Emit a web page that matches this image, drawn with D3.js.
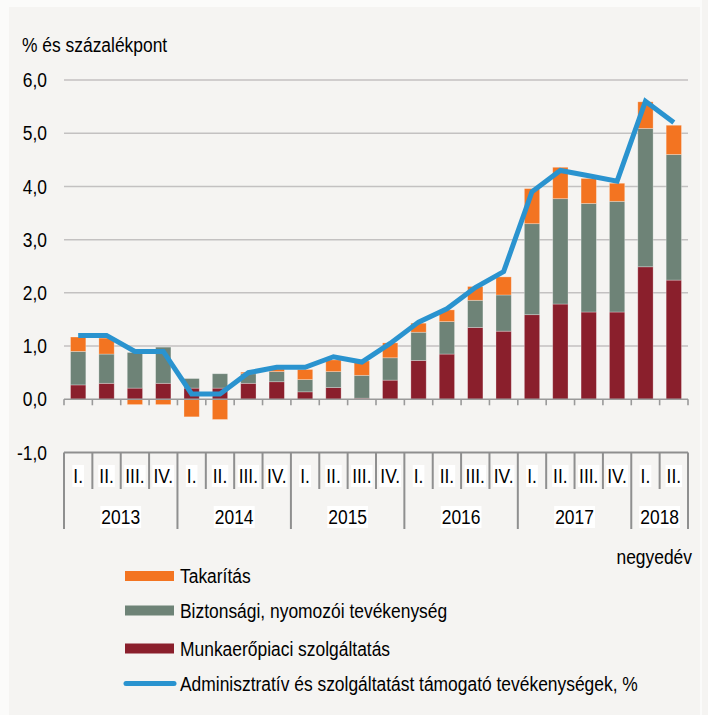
<!DOCTYPE html>
<html><head><meta charset="utf-8">
<script src="https://cdn.jsdelivr.net/npm/d3@7/dist/d3.min.js"></script>
<style>body{margin:0;background:#fbfbfa}svg{display:block}</style>
</head><body>
<svg id="c" width="708" height="715"></svg>
<script>
// ---- data ----
const quarters = ["I.","II.","III.","IV.","I.","II.","III.","IV.","I.","II.","III.","IV.","I.","II.","III.","IV.","I.","II.","III.","IV.","I.","II."];
const years = ["2013","2014","2015","2016","2017","2018"];
const quartersPerYear = [4,4,4,4,4,2];
const munkaeropiaci = [0.27,0.30,0.21,0.30,0.21,0.21,0.30,0.33,0.14,0.22,0.02,0.36,0.73,0.85,1.35,1.28,1.59,1.79,1.64,1.64,2.49,2.24];
const biztonsagi   = [0.63,0.55,0.67,0.68,0.18,0.27,0.18,0.19,0.23,0.30,0.43,0.42,0.53,0.61,0.51,0.68,1.71,1.98,2.04,2.08,2.60,2.36];
const takaritas    = [0.27,0.30,-0.10,-0.10,-0.33,-0.38,0.03,0.05,0.19,0.22,0.27,0.28,0.17,0.22,0.26,0.34,0.66,0.59,0.47,0.34,0.50,0.55];
const adminisztrativ = [1.2,1.2,0.9,0.9,0.1,0.1,0.5,0.6,0.6,0.8,0.7,1.05,1.45,1.7,2.1,2.4,3.9,4.3,4.2,4.1,5.6,5.2];
const yTicks = [-1,0,1,2,3,4,5,6];
const seriesNames = ["Takarítás","Biztonsági, nyomozói tevékenység","Munkaerőpiaci szolgáltatás","Adminisztratív és szolgáltatást támogató tevékenységek, %"];
const yTitle = "% és százalékpont";
const xTitle = "negyedév";

(function(){
// ---- styles ----
const COL = {tak:"#f37421", biz:"#6e8377", mun:"#8a1f2c", line:"#2a93cf"};
const FONT = "'Liberation Sans', Arial, sans-serif";
const FS = 21, SX = 0.83;

const svg = d3.select("#c");
svg.append("rect").attr("x",9).attr("y",7).attr("width",691).attr("height",708).attr("fill","#f5f4f2");
svg.append("rect").attr("x",702).attr("y",0).attr("width",6).attr("height",715).attr("fill","#f5f4f2");

const L = 64, R = 688;
const x = d3.scaleBand().domain(d3.range(quarters.length)).range([L, R]).paddingInner(0.46).paddingOuter(0.23);
const step = x.step();
const y = d3.scaleLinear().domain([-1, 6]).range([452.5, 80]);

function txt(g, s, px, py, anchor) {
  return g.append("text").attr("transform", `translate(${px},${py}) scale(${SX},1)`)
    .attr("font-family", FONT).attr("font-size", FS).attr("fill", "#000")
    .attr("text-anchor", anchor || "start").attr("dominant-baseline", "central").text(s);
}

// gridlines
svg.append("g").selectAll("line").data(yTicks.filter(v => v > 0)).join("line")
  .attr("x1", L).attr("x2", R).attr("y1", d => y(d)).attr("y2", d => y(d))
  .attr("stroke", "#c3c1c1").attr("stroke-width", 1.5);

// y labels
const yl = svg.append("g");
yTicks.forEach(v => txt(yl, v.toFixed(1).replace(".", ","), 47, y(v), "end"));
txt(svg, yTitle, 22, 45, "start");

// stacked bars
const rows = quarters.map((q, i) => ({i, mun: munkaeropiaci[i], biz: biztonsagi[i], tak: takaritas[i]}));
const stack = d3.stack().keys(["mun", "biz", "tak"]).offset(d3.stackOffsetDiverging);
const layers = stack(rows);
svg.append("g").selectAll("g").data(layers).join("g").attr("fill", d => COL[d.key])
  .selectAll("rect").data(d => d).join("rect")
  .attr("x", d => x(d.data.i)).attr("width", x.bandwidth())
  .attr("y", d => y(Math.max(d[0], d[1]))).attr("height", d => Math.abs(y(d[0]) - y(d[1])))
  .attr("stroke", "rgba(255,255,255,0.35)").attr("stroke-width", 0.8);

// zero axis with ticks
const ax = svg.append("g").attr("stroke", "#9a9a9a").attr("stroke-width", 1.6);
ax.append("line").attr("x1", L).attr("x2", R).attr("y1", y(0)).attr("y2", y(0));
ax.selectAll("line.t").data(d3.range(quarters.length + 1)).join("line").attr("class", "t")
  .attr("x1", d => L + d * step).attr("x2", d => L + d * step).attr("y1", y(0)).attr("y2", y(0) + 6);

// line
svg.append("path").datum(adminisztrativ)
  .attr("d", d3.line().x((d, i) => x(i) + x.bandwidth() / 2).y(d => y(d)))
  .attr("fill", "none").attr("stroke", COL.line).attr("stroke-width", 5).attr("stroke-linejoin", "miter");

// category axis
const cat = svg.append("g");
const catTop = y(-1);
cat.append("line").attr("x1", L).attr("x2", R).attr("y1", catTop).attr("y2", catTop).attr("stroke", "#8f8f8f").attr("stroke-width", 2);
const yearStarts = [0];
quartersPerYear.forEach((n, k) => yearStarts.push(yearStarts[k] + n));
d3.range(quarters.length + 1).forEach(i => {
  const isYear = yearStarts.includes(i);
  cat.append("line").attr("x1", L + i * step).attr("x2", L + i * step)
    .attr("y1", catTop).attr("y2", isYear ? 529 : 489).attr("stroke", "#8f8f8f").attr("stroke-width", 2);
});
function boxed(s, cx, cy) {
  const g = cat.append("g");
  const t = txt(g, s, cx, cy, "middle");
  const b = t.node().getBBox();
  const w = b.width * SX + 2, h = 22;
  g.insert("rect", "text").attr("x", cx - w / 2).attr("y", cy - h / 2).attr("width", w).attr("height", h).attr("fill", "#fff");
}
quarters.forEach((q, i) => boxed(q, L + (i + 0.5) * step, 476));
years.forEach((yr, k) => boxed(yr, L + (yearStarts[k] + quartersPerYear[k] / 2) * step, 517));

txt(svg, xTitle, 692, 557, "end");

// legend
const lg = svg.append("g");
const legendRows = [
  {name: seriesNames[0], col: COL.tak, cy: 576},
  {name: seriesNames[1], col: COL.biz, cy: 610.5},
  {name: seriesNames[2], col: COL.mun, cy: 648.5},
];
legendRows.forEach(r => {
  lg.append("rect").attr("x", 125).attr("y", r.cy - 5).attr("width", 49).attr("height", 10).attr("fill", r.col);
  txt(lg, r.name, 180, r.cy, "start");
});
lg.append("line").attr("x1", 126).attr("x2", 174).attr("y1", 683.5).attr("y2", 683.5)
  .attr("stroke", COL.line).attr("stroke-width", 5).attr("stroke-linecap", "round");
txt(lg, seriesNames[3], 180, 683.5, "start");
})();
</script>
</body></html>
